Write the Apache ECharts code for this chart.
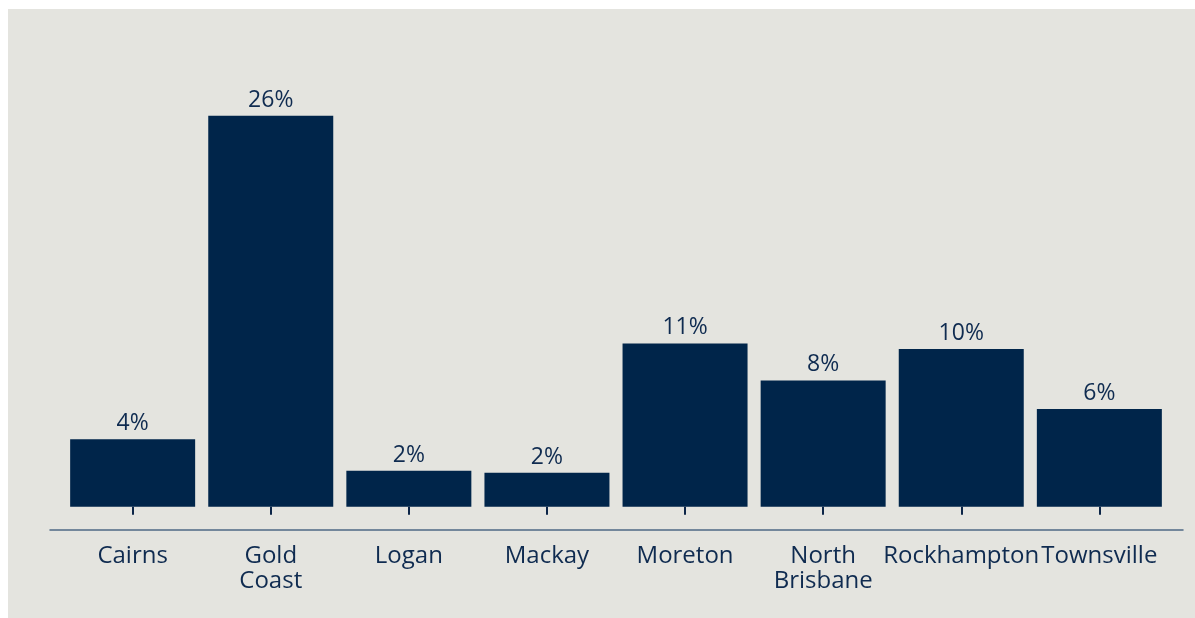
<!DOCTYPE html>
<html>
<head>
<meta charset="utf-8">
<script src="https://cdn.jsdelivr.net/npm/echarts@6/dist/echarts.min.js"></script>
<style>
  html, body { margin: 0; padding: 0; background: #ffffff; }
  #chart { width: 1195px; height: 618px; }
</style>
</head>
<body>
<div id="chart"></div>
<script>
// Share of cases by region (%)
const regions = ['Cairns', 'Gold\nCoast', 'Logan', 'Mackay', 'Moreton', 'North\nBrisbane', 'Rockhampton', 'Townsville'];
const shares = [4.49, 26.0, 2.39, 2.26, 10.86, 8.4, 10.49, 6.49];

const NAVY = '#00254A';
const TEXT = '#0f2b50';
const FONT = '"Open Sans", "Noto Sans", sans-serif';

const chart = echarts.init(document.getElementById('chart'), null, { renderer: 'canvas' });

const plotTop = 55.5;
const plotBottom = 88.7;

chart.setOption({
  backgroundColor: 'transparent',
  animation: false,
  graphic: [{
    type: 'rect',
    z: -10,
    silent: true,
    shape: { x: 8, y: 9, width: 1187, height: 609 },
    style: { fill: '#e4e4df' }
  }],
  grid: [
    { left: 63.6, right: 26.6, top: plotTop, bottom: plotBottom },
    { left: 50, right: 12, top: plotTop, bottom: plotBottom }
  ],
  xAxis: [
    {
      type: 'category',
      gridIndex: 0,
      data: regions,
      boundaryGap: true,
      axisLine: { show: false },
      axisTick: {
        show: true,
        alignWithLabel: true,
        length: 8,
        lineStyle: { color: '#0b2547', width: 2 }
      },
      axisLabel: {
        interval: 0,
        margin: 14,
        color: TEXT,
        fontFamily: FONT,
        fontSize: 24,
        lineHeight: 25
      }
    },
    {
      type: 'value',
      gridIndex: 1,
      min: 0,
      max: 1,
      axisLine: { show: true, onZero: false, lineStyle: { color: '#4d6885', width: 1.5 } },
      axisTick: { show: false },
      axisLabel: { show: false },
      splitLine: { show: false }
    }
  ],
  yAxis: [
    {
      type: 'value',
      gridIndex: 0,
      min: -1.5,
      max: 30,
      show: false,
      splitLine: { show: false }
    },
    {
      type: 'value',
      gridIndex: 1,
      show: false,
      splitLine: { show: false }
    }
  ],
  series: [{
    type: 'bar',
    xAxisIndex: 0,
    yAxisIndex: 0,
    data: shares,
    barWidth: 125,
    itemStyle: { color: NAVY },
    label: {
      show: true,
      position: 'top',
      distance: 3,
      color: TEXT,
      fontFamily: FONT,
      fontSize: 23,
      lineHeight: 25,
      formatter: p => Math.round(p.value) + '%'
    }
  }]
});
</script>
</body>
</html>
